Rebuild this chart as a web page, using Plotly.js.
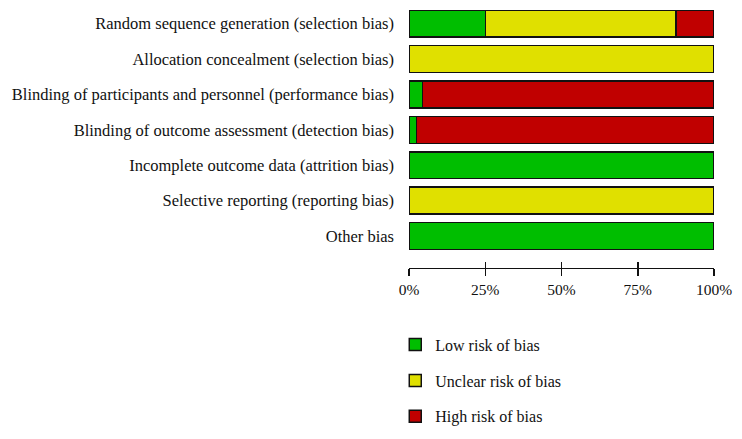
<!DOCTYPE html>
<html><head><meta charset="utf-8">
<script src="https://cdn.plot.ly/plotly-3.0.1.min.js"></script>
<style>body{margin:0;background:#fff}#c{width:742px;height:439px}</style>
</head><body><div id="c"></div>
<script>
const domains = [
  "Random sequence generation (selection bias)",
  "Allocation concealment (selection bias)",
  "Blinding of participants and personnel (performance bias)",
  "Blinding of outcome assessment (detection bias)",
  "Incomplete outcome data (attrition bias)",
  "Selective reporting (reporting bias)",
  "Other bias"
];
const lowRisk     = [25, 0, 4.5, 2.5, 100, 0, 100];
const unclearRisk = [62.5, 100, 0, 0, 0, 100, 0];
const highRisk    = [12.5, 0, 95.5, 97.5, 0, 0, 0];
const seriesNames = ["Low risk of bias", "Unclear risk of bias", "High risk of bias"];
const tickValues = [0, 25, 50, 75, 100];
const tickLabels = ["0%", "25%", "50%", "75%", "100%"];

const colors = ["#00BE00", "#E0E000", "#C00000"];
const FONT = "Liberation Serif, DejaVu Serif, serif";
const series = [lowRisk, unclearRisk, highRisk];
const traces = series.map((vals, i) => ({
  type: "bar", orientation: "h", x: vals, y: domains, name: seriesNames[i],
  legendgroup: "g" + i, width: 0.76,
  marker: {color: colors[i], line: {color: "#111", width: 1.5}},
  hoverinfo: "x+y+name"
}));
traces.push({type: "scatter", x: [0, 100], y: [domains[0], domains[0]], xaxis: "x2", mode: "none",
  showlegend: false, hoverinfo: "skip"});

const layout = {
  width: 742, height: 439,
  margin: {l: 409, r: 28, t: 6, b: 0},
  paper_bgcolor: "#fff", plot_bgcolor: "#fff",
  barmode: "stack",
  font: {family: FONT, size: 16.5, color: "#111"},
  xaxis: {range: [0, 100], tickmode: "array", tickvals: tickValues, ticktext: tickLabels,
    showgrid: false, zeroline: false, tickfont: {size: 15.5},
    anchor: "free", position: 0.395, showline: true, linecolor: "#111", linewidth: 1.5,
    ticks: "outside", ticklen: 7, tickwidth: 1.5, tickcolor: "#111", fixedrange: true},
  xaxis2: {range: [0, 100], tickmode: "array", tickvals: tickValues, overlaying: "x", anchor: "free", position: 0.395,
    showticklabels: false, showgrid: false, zeroline: false, showline: false,
    ticks: "inside", ticklen: 6, tickwidth: 1.5, tickcolor: "#111", fixedrange: true},
  yaxis: {domain: [0.428, 1], autorange: "reversed", showgrid: false, zeroline: false,
    showline: false, ticks: "", ticklabelstandoff: 14, fixedrange: true},
  showlegend: true,
  legend: {x: -0.045, y: 0.257, xanchor: "left", yanchor: "top", traceorder: "grouped",
    tracegroupgap: 12, font: {family: FONT, size: 16, color: "#111"}, bgcolor: "rgba(0,0,0,0)"},
};
Plotly.newPlot("c", traces, layout, {displayModeBar: false, staticPlot: true});
</script></body></html>
